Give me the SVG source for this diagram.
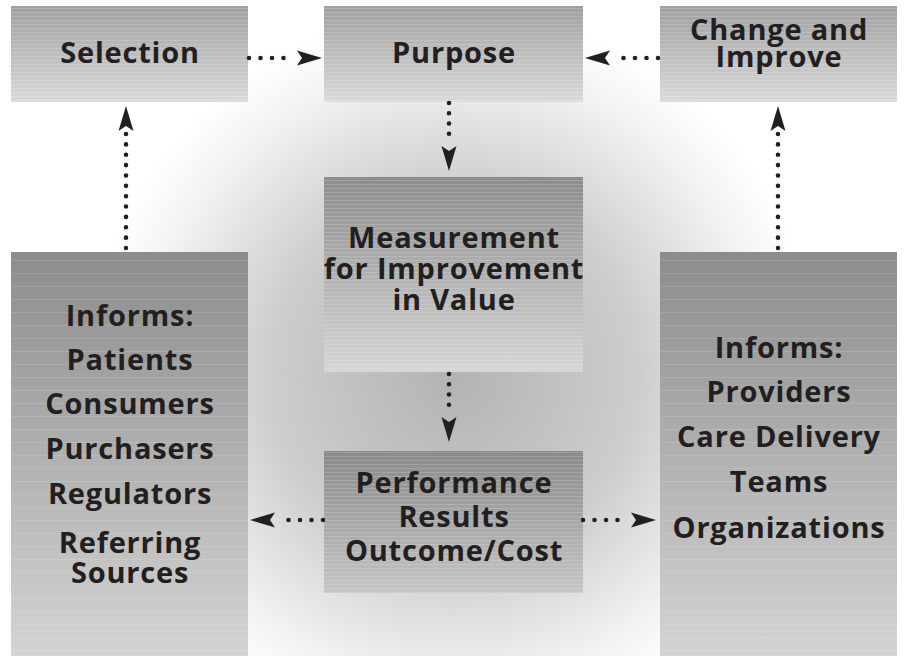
<svg xmlns="http://www.w3.org/2000/svg" width="907" height="656" viewBox="0 0 907 656">
  <style>
    .lbl { font-family: "Open Sans", "Liberation Sans", sans-serif; font-weight: 700; font-size: 29px; fill: #231f20; text-anchor: middle; letter-spacing: 0.8px; }
    .dots { fill: none; stroke: #231f20; stroke-width: 4.6; stroke-linecap: round; }
    .head { fill: #231f20; }
  </style>
  <defs>
    <!-- soft grey glow behind the whole cycle -->
    <radialGradient id="glow" gradientUnits="userSpaceOnUse" cx="454" cy="375" r="365">
      <stop offset="0" stop-color="#b3b3b3"/>
      <stop offset="0.5" stop-color="#cdcdcd"/>
      <stop offset="0.85" stop-color="#f3f3f3"/>
      <stop offset="1" stop-color="#ffffff"/>
    </radialGradient>
    <!-- vertical box shading: darker top, lighter bottom -->
    <linearGradient id="gTop" x1="0" y1="0" x2="0" y2="1">
      <stop offset="0" stop-color="#a0a0a0"/>
      <stop offset="1" stop-color="#dadada"/>
    </linearGradient>
    <linearGradient id="gMid" x1="0" y1="0" x2="0" y2="1">
      <stop offset="0" stop-color="#8d8d8d"/>
      <stop offset="1" stop-color="#d6d6d6"/>
    </linearGradient>
    <linearGradient id="gTall" x1="0" y1="0" x2="0" y2="1">
      <stop offset="0" stop-color="#8c8c8c"/>
      <stop offset="1" stop-color="#d4d4d4"/>
    </linearGradient>
    <linearGradient id="gPerf" x1="0" y1="0" x2="0" y2="1">
      <stop offset="0" stop-color="#8a8a8a"/>
      <stop offset="1" stop-color="#c6c6c6"/>
    </linearGradient>
    <!-- fine horizontal scan-line texture -->
    <pattern id="lines" width="8" height="4" patternUnits="userSpaceOnUse">
      <rect x="0" y="0" width="8" height="1" fill="#ffffff" fill-opacity="0.16"/>
    </pattern>
    <pattern id="linesWide" width="8" height="13" patternUnits="userSpaceOnUse">
      <rect x="0" y="0" width="8" height="1" fill="#ffffff" fill-opacity="0.13"/>
    </pattern>
    <!-- arrowhead pointing along +x, tip at origin -->
    <path id="ah" class="head" d="M0,0 L-25,-7.5 L-20,0 L-25,7.5 Z"/>
  </defs>

  <rect width="907" height="656" fill="#ffffff"/>
  <rect width="907" height="656" fill="url(#glow)"/>

  <g id="selection">
    <rect x="11" y="6" width="237" height="96" fill="url(#gTop)"/>
    <rect x="11" y="6" width="237" height="96" fill="url(#lines)"/>
    <text class="lbl" x="130" y="63">Selection</text>
  </g>

  <g id="purpose">
    <rect x="324" y="6" width="259" height="96" fill="url(#gTop)"/>
    <rect x="324" y="6" width="259" height="96" fill="url(#lines)"/>
    <text class="lbl" x="454" y="63">Purpose</text>
  </g>

  <g id="change-improve">
    <rect x="660" y="6" width="237" height="96" fill="url(#gTop)"/>
    <rect x="660" y="6" width="237" height="96" fill="url(#lines)"/>
    <text class="lbl" x="779" y="40">Change and</text>
    <text class="lbl" x="779" y="67">Improve</text>
  </g>

  <g id="measurement">
    <rect x="324" y="177" width="259" height="195" fill="url(#gMid)"/>
    <rect x="324" y="177" width="259" height="195" fill="url(#lines)"/>
    <text class="lbl" x="454" y="248">Measurement</text>
    <text class="lbl" x="454" y="279">for Improvement</text>
    <text class="lbl" x="454" y="310">in Value</text>
  </g>

  <g id="performance">
    <rect x="324" y="451" width="259" height="142" fill="url(#gPerf)"/>
    <rect x="324" y="451" width="259" height="142" fill="url(#lines)"/>
    <text class="lbl" x="454" y="493">Performance</text>
    <text class="lbl" x="454" y="527">Results</text>
    <text class="lbl" x="454" y="561">Outcome/Cost</text>
  </g>

  <g id="informs-public">
    <rect x="11" y="252" width="237" height="404" fill="url(#gTall)"/>
    <rect x="11" y="252" width="237" height="404" fill="url(#linesWide)"/>
    <text class="lbl" x="130" y="326">Informs:</text>
    <text class="lbl" x="130" y="370">Patients</text>
    <text class="lbl" x="130" y="414">Consumers</text>
    <text class="lbl" x="130" y="459">Purchasers</text>
    <text class="lbl" x="130" y="504">Regulators</text>
    <text class="lbl" x="130" y="553">Referring</text>
    <text class="lbl" x="130" y="583">Sources</text>
  </g>

  <g id="informs-providers">
    <rect x="660" y="252" width="237" height="404" fill="url(#gTall)"/>
    <rect x="660" y="252" width="237" height="404" fill="url(#linesWide)"/>
    <text class="lbl" x="779" y="358">Informs:</text>
    <text class="lbl" x="779" y="402">Providers</text>
    <text class="lbl" x="779" y="447">Care Delivery</text>
    <text class="lbl" x="779" y="492">Teams</text>
    <text class="lbl" x="779" y="538">Organizations</text>
  </g>

  <g id="connectors">
    <!-- Selection to Purpose -->
    <line class="dots" x1="249" y1="58" x2="295" y2="58" stroke-dasharray="0 11.5"/>
    <use href="#ah" transform="translate(322,58)"/>
    <!-- Change and Improve to Purpose -->
    <line class="dots" x1="658" y1="58" x2="612" y2="58" stroke-dasharray="0 11.5"/>
    <use href="#ah" transform="translate(585,58) rotate(180)"/>
    <!-- Purpose to Measurement -->
    <line class="dots" x1="449" y1="103" x2="449" y2="144" stroke-dasharray="0 10.25"/>
    <use href="#ah" transform="translate(449,171) rotate(90)"/>
    <!-- Measurement to Performance -->
    <line class="dots" x1="449" y1="374" x2="449" y2="415" stroke-dasharray="0 10.25"/>
    <use href="#ah" transform="translate(449,442) rotate(90)"/>
    <!-- Performance to left audience -->
    <line class="dots" x1="323" y1="520" x2="277" y2="520" stroke-dasharray="0 11.5"/>
    <use href="#ah" transform="translate(250,520) rotate(180)"/>
    <!-- Performance to right audience -->
    <line class="dots" x1="583" y1="520" x2="629" y2="520" stroke-dasharray="0 11.5"/>
    <use href="#ah" transform="translate(656,520)"/>
    <!-- left audience up to Selection -->
    <line class="dots" x1="126" y1="248" x2="126" y2="134" stroke-dasharray="0 10.36"/>
    <use href="#ah" transform="translate(126,106) rotate(-90)"/>
    <!-- right audience up to Change and Improve -->
    <line class="dots" x1="778" y1="248" x2="778" y2="134" stroke-dasharray="0 10.36"/>
    <use href="#ah" transform="translate(778,106) rotate(-90)"/>
  </g>
</svg>
